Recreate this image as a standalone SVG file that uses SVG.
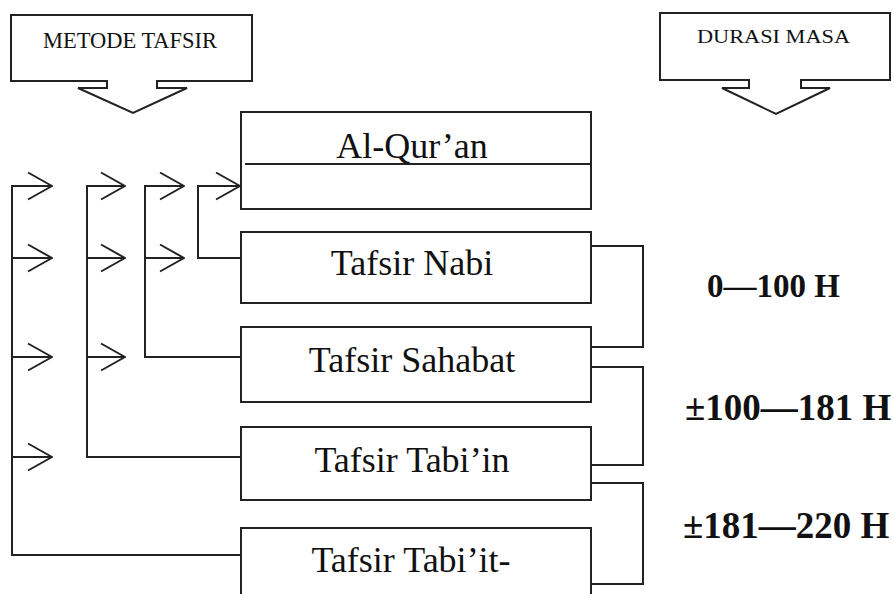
<svg xmlns="http://www.w3.org/2000/svg" width="894" height="594" viewBox="0 0 894 594">
<style>
.ln{fill:none;stroke:#222;stroke-width:2}
.bx{fill:#fff;stroke:#222;stroke-width:2}
.t{font-family:"Liberation Serif","Times New Roman",serif;fill:#111}
.nt{font-size:36px;text-anchor:middle}
.lb{font-size:37px;font-weight:bold}
</style>
<defs>
<marker id="chev" viewBox="0 0 26 30" refX="25" refY="15" markerWidth="26" markerHeight="30" markerUnits="userSpaceOnUse" orient="auto">
<path d="M1,1.5 L25,15 L1,28.5" fill="none" stroke="#222" stroke-width="2"/>
</marker>
</defs>
<g id="metode">
<path class="bx" d="M11,15 H252 V81 H157 V88 H187 L133,113 L78,88 H107 V81 H11 Z"/>
<text class="t" x="43" y="48" font-size="23" textLength="174" lengthAdjust="spacingAndGlyphs">METODE TAFSIR</text>
</g>
<g id="durasi">
<path class="bx" d="M660,13 H890 V80 H801 V88 H830 L776,114 L722,88 H749 V80 H660 Z"/>
<text class="t" x="697" y="43" font-size="19" textLength="153" lengthAdjust="spacingAndGlyphs">DURASI MASA</text>
</g>
<g id="connectors">
<path class="ln" d="M52,186 H12 V555 H245"/>
<path class="ln" d="M125,186 H87 V457 H245"/>
<path class="ln" d="M184,186 H145 V357 H245"/>
<path class="ln" d="M240,186 H198 V258 H245"/>
<path class="ln" marker-end="url(#chev)" d="M12,186 H52"/>
<path class="ln" marker-end="url(#chev)" d="M12,258 H52"/>
<path class="ln" marker-end="url(#chev)" d="M12,357 H52"/>
<path class="ln" marker-end="url(#chev)" d="M12,457 H52"/>
<path class="ln" marker-end="url(#chev)" d="M87,186 H125"/>
<path class="ln" marker-end="url(#chev)" d="M87,258 H125"/>
<path class="ln" marker-end="url(#chev)" d="M87,357 H125"/>
<path class="ln" marker-end="url(#chev)" d="M145,186 H184"/>
<path class="ln" marker-end="url(#chev)" d="M145,258 H184"/>
<path class="ln" marker-end="url(#chev)" d="M198,186 H240"/>
<path class="ln" d="M591,246 H643 V347 H591"/>
<path class="ln" d="M591,367 H643 V465 H591"/>
<path class="ln" d="M591,483 H643 V584 H591"/>
</g>
<g id="alquran">
<rect class="bx" x="241" y="112" width="350" height="97"/>
<path class="ln" d="M245,164 H591"/>
<text class="t nt" x="412" y="158">Al-Qur’an</text>
</g>
<g id="nabi">
<rect class="bx" x="241" y="232" width="350" height="71"/>
<text class="t nt" x="412" y="275">Tafsir Nabi</text>
</g>
<g id="sahabat">
<rect class="bx" x="241" y="327" width="350" height="75"/>
<text class="t nt" x="412" y="372">Tafsir Sahabat</text>
</g>
<g id="tabiin">
<rect class="bx" x="241" y="427" width="350" height="73"/>
<text class="t nt" x="412" y="472">Tafsir Tabi’in</text>
</g>
<g id="tabiit">
<rect class="bx" x="241" y="528" width="350" height="80"/>
<text class="t nt" x="411" y="572">Tafsir Tabi’it-</text>
</g>
<g id="labels">
<text class="t lb" x="707" y="297" style="font-size:33px">0—100 H</text>
<text class="t lb" x="685" y="420">±100—181 H</text>
<text class="t lb" x="683" y="538">±181—220 H</text>
</g>
</svg>
